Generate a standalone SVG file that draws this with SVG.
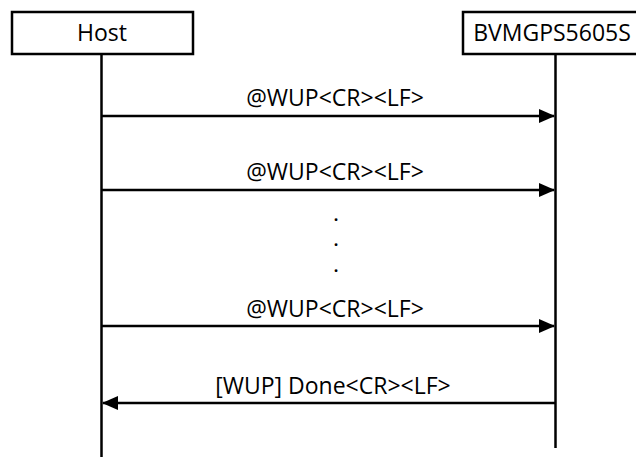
<svg xmlns="http://www.w3.org/2000/svg" width="636" height="459" viewBox="0 0 636 459">
<style>
.box{fill:#fff;stroke:#000;stroke-width:2.5}
.life{stroke:#000;stroke-width:2.5;fill:none}
.msg{stroke:#000;stroke-width:2.5;fill:none}
.t{font-family:"Open Sans","Noto Sans",sans-serif;font-size:23px;fill:#000;text-anchor:middle}
.lbl{font-family:"Open Sans","Noto Sans",sans-serif;font-size:23px;fill:#000;text-anchor:middle}
.dot{font-family:"Open Sans","Noto Sans",sans-serif;font-size:16px;font-weight:bold;fill:#000;text-anchor:middle}
</style>
<defs>
<marker id="ah" markerUnits="userSpaceOnUse" markerWidth="16" markerHeight="14" refX="15" refY="7" orient="auto">
<path d="M0,0 L16,7 L0,14 Z" fill="#000"/>
</marker>
</defs>
<g id="lifelines">
<line class="life" x1="101.5" y1="54" x2="101.5" y2="457"/>
<line class="life" x1="555.5" y1="54" x2="555.5" y2="448"/>
</g>
<g id="host">
<rect class="box" x="12" y="12" width="181" height="42"/>
<text class="t" x="102" y="41">Host</text>
</g>
<g id="bvmgps">
<rect class="box" x="463" y="12" width="180" height="42"/>
<text class="t" x="552" y="41">BVMGPS5605S</text>
</g>
<g id="connectors">
<line class="msg" x1="101.5" y1="116" x2="554" y2="116" marker-end="url(#ah)"/>
<line class="msg" x1="101.5" y1="190" x2="554" y2="190" marker-end="url(#ah)"/>
<line class="msg" x1="101.5" y1="326" x2="554" y2="326" marker-end="url(#ah)"/>
<line class="msg" x1="555.5" y1="403" x2="103" y2="403" marker-end="url(#ah)"/>
</g>
<g id="labels">
<text class="lbl" x="335" y="106">@WUP&lt;CR&gt;&lt;LF&gt;</text>
<text class="lbl" x="335" y="180">@WUP&lt;CR&gt;&lt;LF&gt;</text>
<text class="dot" x="336" y="221">.</text>
<text class="dot" x="336" y="246">.</text>
<text class="dot" x="336" y="272">.</text>
<text class="lbl" x="335" y="317">@WUP&lt;CR&gt;&lt;LF&gt;</text>
<text class="lbl" x="333" y="394">[WUP] Done&lt;CR&gt;&lt;LF&gt;</text>
</g>
</svg>
